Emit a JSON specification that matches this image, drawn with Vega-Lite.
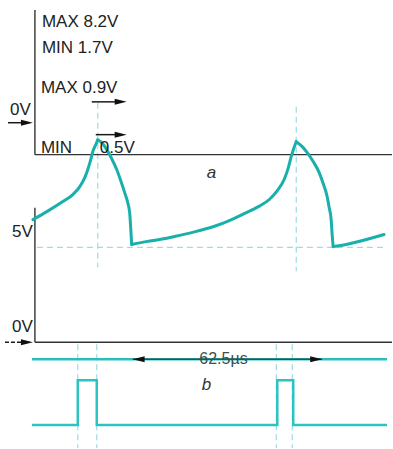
{
  "$schema": "https://vega.github.io/schema/vega-lite/v6.json",
  "width": 393,
  "height": 449,
  "autosize": {"type": "fit", "contains": "padding"},
  "padding": 0,
  "background": "white",
  "config": {"view": {"stroke": null}},
  "datasets": {
    "waveA": [
      {"seg": "rise1", "t": -20.0, "v": 6.47}, {"seg": "rise1", "t": -15.63, "v": 6.89}, {"seg": "rise1", "t": -10.63, "v": 7.42}, {"seg": "rise1", "t": -7.5, "v": 7.79},
      {"seg": "rise1", "t": -5.31, "v": 8.21}, {"seg": "rise1", "t": -3.75, "v": 8.68}, {"seg": "rise1", "t": -2.81, "v": 9.11}, {"seg": "rise1", "t": -1.88, "v": 9.63},
      {"seg": "rise1", "t": -1.25, "v": 10.05}, {"seg": "rise1", "t": -0.31, "v": 10.42}, {"seg": "rise1", "t": 0.31, "v": 10.68},
      {"seg": "fall1", "t": 0.31, "v": 10.68}, {"seg": "fall1", "t": 1.88, "v": 10.47},
      {"seg": "fall1", "t": 3.13, "v": 10.16}, {"seg": "fall1", "t": 4.69, "v": 9.68}, {"seg": "fall1", "t": 6.25, "v": 9.11}, {"seg": "fall1", "t": 7.5, "v": 8.53},
      {"seg": "fall1", "t": 8.75, "v": 7.89}, {"seg": "fall1", "t": 9.69, "v": 7.37}, {"seg": "fall1", "t": 10.31, "v": 6.84}, {"seg": "fall1", "t": 10.63, "v": 6.05},
      {"seg": "fall1", "t": 10.94, "v": 5.16},
      {"seg": "rise2", "t": 10.94, "v": 5.16}, {"seg": "rise2", "t": 15.94, "v": 5.32}, {"seg": "rise2", "t": 19.69, "v": 5.42}, {"seg": "rise2", "t": 24.38, "v": 5.58},
      {"seg": "rise2", "t": 30.63, "v": 5.82}, {"seg": "rise2", "t": 36.88, "v": 6.12}, {"seg": "rise2", "t": 41.56, "v": 6.42}, {"seg": "rise2", "t": 46.88, "v": 6.84},
      {"seg": "rise2", "t": 50.94, "v": 7.18}, {"seg": "rise2", "t": 54.06, "v": 7.53}, {"seg": "rise2", "t": 56.56, "v": 8.0}, {"seg": "rise2", "t": 58.75, "v": 8.6},
      {"seg": "rise2", "t": 60.0, "v": 9.2}, {"seg": "rise2", "t": 60.94, "v": 9.8}, {"seg": "rise2", "t": 61.88, "v": 10.3}, {"seg": "rise2", "t": 62.5, "v": 10.58},
      {"seg": "fall2", "t": 62.5, "v": 10.58},
      {"seg": "fall2", "t": 64.38, "v": 10.32}, {"seg": "fall2", "t": 65.94, "v": 10.0}, {"seg": "fall2", "t": 67.81, "v": 9.53}, {"seg": "fall2", "t": 69.69, "v": 8.95},
      {"seg": "fall2", "t": 70.94, "v": 8.37}, {"seg": "fall2", "t": 72.19, "v": 7.68}, {"seg": "fall2", "t": 72.81, "v": 7.11}, {"seg": "fall2", "t": 73.44, "v": 6.47},
      {"seg": "fall2", "t": 73.75, "v": 5.68}, {"seg": "fall2", "t": 74.06, "v": 5.05},
      {"seg": "rise3", "t": 74.06, "v": 5.05}, {"seg": "rise3", "t": 78.13, "v": 5.16}, {"seg": "rise3", "t": 90.0, "v": 5.68}
    ],
    "pulseB": [
      {"i": 1, "t": -20.31, "v": -4.37}, {"i": 2, "t": -5.94, "v": -4.37}, {"i": 3, "t": -5.94, "v": -2.0},
      {"i": 4, "t": 0.0, "v": -2.0}, {"i": 5, "t": 0.0, "v": -4.37}, {"i": 6, "t": 56.56, "v": -4.37},
      {"i": 7, "t": 56.56, "v": -2.0}, {"i": 8, "t": 61.56, "v": -2.0}, {"i": 9, "t": 61.56, "v": -4.37},
      {"i": 10, "t": 90.94, "v": -4.37}
    ],
    "guides": [
      {"t": -18.75, "t2": 90.94, "v": 5.0, "v2": 5.0},
      {"t": 0.31, "t2": 0.31, "v": 12.63, "v2": 3.95},
      {"t": 62.5, "t2": 62.5, "v": 12.42, "v2": 3.74},
      {"t": -5.94, "t2": -5.94, "v": -0.1, "v2": -5.58},
      {"t": 0.0, "t2": 0.0, "v": -0.1, "v2": -5.58},
      {"t": 56.25, "t2": 56.25, "v": -0.1, "v2": -5.58},
      {"t": 61.25, "t2": 61.25, "v": -0.1, "v2": -5.58}
    ],
    "axes": [
      {"t": -19.375, "t2": -19.375, "v": 17.53, "v2": 9.895},
      {"t": -19.375, "t2": 92.5, "v": 9.895, "v2": 9.895},
      {"t": -19.375, "t2": -19.375, "v": 7.1, "v2": 0},
      {"t": -19.375, "t2": 92.5, "v": 0, "v2": 0}
    ],
    "dimLine": [
      {"t": -20.31, "t2": 90.94, "v": -0.895, "v2": -0.895}
    ],
    "dimDark": [
      {"t": 11.25, "t2": 70.6, "v": -0.895, "v2": -0.895}
    ],
    "shafts": [
      {"t": -27.81, "t2": -21.5, "v": 11.58, "v2": 11.58},
      {"t": -1.56, "t2": 7.5, "v": 12.68, "v2": 12.68},
      {"t": -0.31, "t2": 7.5, "v": 10.95, "v2": 10.95}
    ],
    "dashedShaft": [
      {"t": -28.75, "t2": -21.5, "v": 0, "v2": 0}
    ],
    "heads": [
      {"t": -21.875, "v": 11.58, "dir": 0},
      {"t": -21.875, "v": 0, "dir": 0},
      {"t": 7.5, "v": 12.68, "dir": 0},
      {"t": 7.5, "v": 10.95, "dir": 0},
      {"t": 13.125, "v": -0.895, "dir": 180},
      {"t": 68.75, "v": -0.895, "dir": 0}
    ],
    "labels": [
      {"t": -17.19, "v": 16.63, "text": "MAX 8.2V"},
      {"t": -17.19, "v": 15.26, "text": "MIN 1.7V"},
      {"t": -17.5, "v": 13.16, "text": "MAX 0.9V"},
      {"t": -17.5, "v": 10.0, "text": "MIN"},
      {"t": 0.94, "v": 10.0, "text": "0.5V"},
      {"t": -27.19, "v": 12.0, "text": "0V"},
      {"t": -26.56, "v": 5.53, "text": "5V"},
      {"t": -26.56, "v": 0.53, "text": "0V"}
    ],
    "traceNames": [
      {"t": 35.94, "v": 8.68, "text": "a"},
      {"t": 34.38, "v": -2.53, "text": "b"}
    ],
    "period": [
      {"t": 39.7, "v": -0.895, "text": "62.5µs"}
    ]
  },
  "encoding": {
    "x": {"field": "t", "type": "quantitative", "scale": {"domain": [-30.3125, 92.5], "nice": false, "zero": false}, "axis": null},
    "y": {"field": "v", "type": "quantitative", "scale": {"domain": [-5.579, 18.053], "nice": false, "zero": false}, "axis": null}
  },
  "layer": [
    {
      "data": {"name": "guides"},
      "mark": {"type": "rule", "color": "#9edbe3", "strokeWidth": 1.2, "strokeDash": [6, 4]},
      "encoding": {"x2": {"field": "t2"}, "y2": {"field": "v2"}}
    },
    {
      "data": {"name": "axes"},
      "mark": {"type": "rule", "color": "#333333", "strokeWidth": 1.4},
      "encoding": {"x2": {"field": "t2"}, "y2": {"field": "v2"}}
    },
    {
      "data": {"name": "dimLine"},
      "mark": {"type": "rule", "color": "#2bbdbd", "strokeWidth": 2.5},
      "encoding": {"x2": {"field": "t2"}, "y2": {"field": "v2"}}
    },
    {
      "data": {"name": "dimDark"},
      "mark": {"type": "rule", "color": "#2a5550", "strokeWidth": 1.5},
      "encoding": {"x2": {"field": "t2"}, "y2": {"field": "v2"}}
    },
    {
      "data": {"name": "waveA"},
      "mark": {"type": "line", "color": "#19b0ac", "strokeWidth": 3, "strokeCap": "round", "interpolate": "monotone"},
      "encoding": {"detail": {"field": "seg", "type": "nominal"}}
    },
    {
      "data": {"name": "pulseB"},
      "mark": {"type": "line", "color": "#2cc3c3", "strokeWidth": 2.5, "strokeJoin": "miter"},
      "encoding": {"order": {"field": "i", "type": "quantitative"}}
    },
    {
      "data": {"name": "shafts"},
      "mark": {"type": "rule", "color": "#1a1a1a", "strokeWidth": 1.5},
      "encoding": {"x2": {"field": "t2"}, "y2": {"field": "v2"}}
    },
    {
      "data": {"name": "dashedShaft"},
      "mark": {"type": "rule", "color": "#1a1a1a", "strokeWidth": 1.5, "strokeDash": [4, 2]},
      "encoding": {"x2": {"field": "t2"}, "y2": {"field": "v2"}}
    },
    {
      "data": {"name": "heads"},
      "mark": {"type": "point", "shape": "M-1,-0.5L1,0L-1,0.5Z", "filled": true, "color": "#111111", "size": 144, "opacity": 1},
      "encoding": {"angle": {"field": "dir", "type": "quantitative", "scale": null}}
    },
    {
      "data": {"name": "labels"},
      "mark": {"type": "text", "align": "left", "baseline": "alphabetic", "font": "Liberation Sans", "fontSize": 17, "color": "#222222"},
      "encoding": {"text": {"field": "text"}}
    },
    {
      "data": {"name": "traceNames"},
      "mark": {"type": "text", "align": "center", "baseline": "alphabetic", "font": "Liberation Sans", "fontSize": 17, "fontStyle": "italic", "color": "#333333"},
      "encoding": {"text": {"field": "text"}}
    },
    {
      "data": {"name": "period"},
      "mark": {"type": "text", "align": "center", "baseline": "middle", "font": "Liberation Sans", "fontSize": 16, "color": "#3d4f47"},
      "encoding": {"text": {"field": "text"}}
    }
  ]
}
